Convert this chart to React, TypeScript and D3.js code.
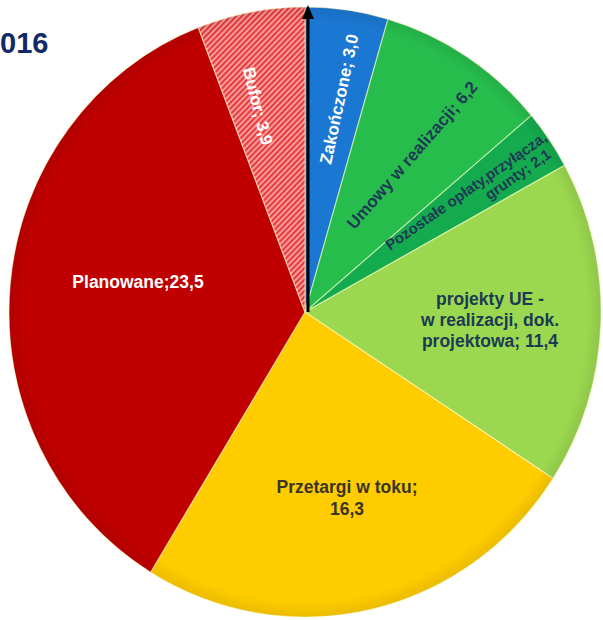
import React from "react";
import * as d3 from "d3";

// ---- data ----
const categories = [
  "Zakończone",
  "Umowy  w realizacji",
  "Pozostałe opłaty,przyłącza,|grunty",
  "projekty UE -|w realizacji, dok.|projektowa",
  "Przetargi w toku",
  "Planowane",
  "Bufor",
];
const values = [3.0, 6.2, 2.1, 11.4, 16.3, 23.5, 3.9];
const separators = ["; ", "; ", "; ", "; ", ";|", ";", "; "];
const colors = ["#1b78d2", "#27bd4d", "#14ab4e", "#9bd84f", "#ffcc00", "#c00000", "url(#hatch)"];
const titleText = "016";

const W = 603;
const H = 620;
const FONT = "'Liberation Sans', Arial, Helvetica, sans-serif";

const fmt = (v: number) => v.toFixed(1).replace(".", ",");

// label placement (layout only)
const labelLayout = [
  { x: 339, y: 99, rot: -78, color: "#ffffff", size: 17, lines: [{ dx: 0, dy: 0 }] },
  { x: 412, y: 155, rot: -49, color: "#1d3a55", size: 17, lines: [{ dx: 0, dy: 0 }] },
  { x: 466, y: 191, rot: -35, color: "#1d3a55", size: 15, lines: [{ dx: 0, dy: 0 }, { dx: 52, dy: 16 }] },
  { x: 490, y: 299, rot: 0, color: "#1d3a55", size: 17.5, lines: [{ dx: 0, dy: 0 }, { dx: 0, dy: 21 }, { dx: 0, dy: 42 }] },
  { x: 347, y: 487, rot: 0, color: "#3a3527", size: 17.5, lines: [{ dx: 0, dy: 0 }, { dx: 0, dy: 22 }] },
  { x: 138, y: 282, rot: 0, color: "#ffffff", size: 17.5, lines: [{ dx: 0, dy: 0 }] },
  { x: 258, y: 106, rot: 76, color: "#ffffff", size: 17, lines: [{ dx: 0, dy: 0 }] },
];

export default function App() {
  const cx = 305;
  const cy = 312;
  const rx = 296;
  const ry = 305;
  const R = 300;

  const pie = d3
    .pie<number>()
    .sort(null)
    .value((d) => d)
    .startAngle(0)
    .endAngle(2 * Math.PI);
  const arcs = pie(values);
  const arc = d3.arc<d3.PieArcDatum<number>>().innerRadius(0).outerRadius(R);

  const labelLines = categories.map((c, i) => {
    const full = c + separators[i] + fmt(values[i]);
    return full.split("|");
  });

  return (
    <svg
      width={W}
      height={H}
      style={{ position: "absolute", left: 0, top: 0, background: "#ffffff" }}
    >
      <defs>
        <pattern
          id="hatch"
          patternUnits="userSpaceOnUse"
          width={4}
          height={4}
          patternTransform="rotate(45)"
        >
          <rect width={4} height={4} fill="#ff9d9d" />
          <rect width={2} height={4} fill="#e23b3b" />
        </pattern>
        <radialGradient id="edge" cx="50%" cy="50%" r="50%">
          <stop offset="95%" stopColor="#000" stopOpacity={0} />
          <stop offset="100%" stopColor="#000" stopOpacity={0.08} />
        </radialGradient>
      </defs>

      <g transform={`translate(${cx},${cy}) scale(${rx / R},${ry / R})`}>
        {arcs.map((a, i) => (
          <path
            key={i}
            d={arc(a) || ""}
            fill={colors[i]}
            stroke="rgba(255,255,200,0.55)"
            strokeWidth={1.2}
          />
        ))}
        <circle r={R} fill="url(#edge)" />
      </g>

      {/* arrow */}
      <line x1={cx + 3} y1={cy} x2={cx + 3} y2={16} stroke="#000" strokeWidth={3} />
      <path d={`M${cx + 3},5 L${cx - 3},19 L${cx + 9},19 Z`} fill="#000" />

      {labelLines.map((lines, i) => {
        const L = labelLayout[i];
        return (
          <g key={i} transform={`translate(${L.x},${L.y}) rotate(${L.rot})`}>
            {lines.map((t, j) => (
              <text
                key={j}
                x={L.lines[j].dx}
                y={L.lines[j].dy}
                dy="0.35em"
                textAnchor="middle"
                fill={L.color}
                fontFamily={FONT}
                fontWeight="bold"
                fontSize={L.size}
              >
                {t}
              </text>
            ))}
          </g>
        );
      })}

      <text
        x={0}
        y={53}
        textAnchor="start"
        fill="#112a66"
        fontFamily={FONT}
        fontWeight="bold"
        fontSize={29}
      >
        {titleText}
      </text>
    </svg>
  );
}
